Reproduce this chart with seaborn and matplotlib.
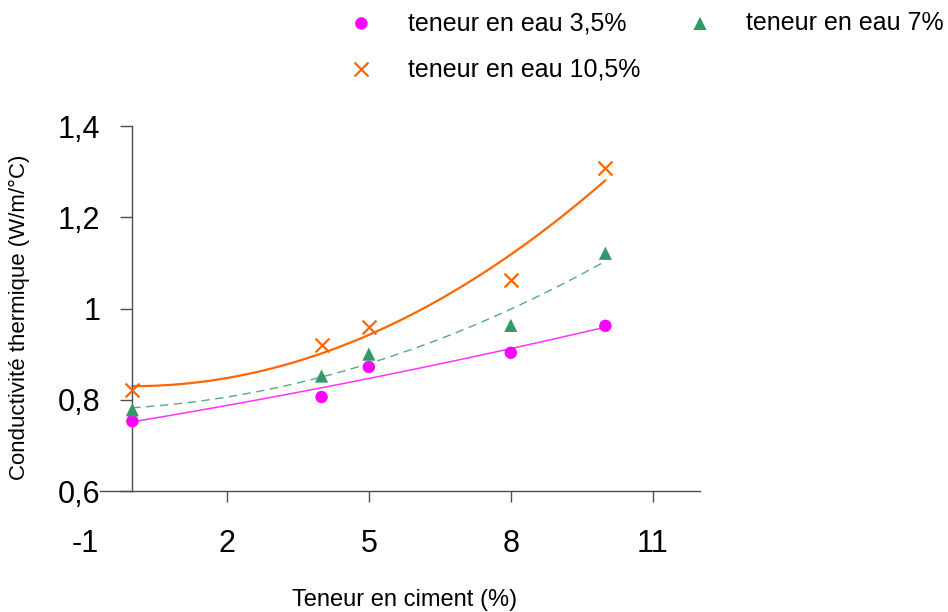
import numpy as np
import pandas as pd
import matplotlib
matplotlib.use("Agg")
import matplotlib.pyplot as plt
import seaborn as sns

# ---------- data ----------
ciment = [0, 4, 5, 8, 10]
eau_35 = [0.753, 0.806, 0.872, 0.903, 0.962]
eau_7 = [0.778, 0.852, 0.900, 0.963, 1.121]
eau_105 = [0.821, 0.920, 0.960, 1.063, 1.309]

labels = ["teneur en eau 3,5%", "teneur en eau 7%", "teneur en eau 10,5%"]
x_ticks = [-1, 2, 5, 8, 11]
y_ticks = [0.6, 0.8, 1.0, 1.2, 1.4]
y_ticklabels = ["0,6", "0,8", "1", "1,2", "1,4"]

colors = ["#FF00FF", "#339966", "#FF6600"]
markers = ["o", "^", "x"]
sizes = [80, 90, 100]
line_styles = ["-", (0, (6, 4)), "-"]
line_widths = [1.1, 1.0, 1.6]
line_colors = ["#FF33FF", "#55AA80", "#FF6600"]

sns.set_style("ticks")
plt.rcParams['font.family'] = ['Liberation Sans', 'DejaVu Sans']
plt.rcParams['text.color'] = 'black'
plt.rcParams['axes.labelcolor'] = 'black'
plt.rcParams['xtick.labelcolor'] = 'black'
plt.rcParams['ytick.labelcolor'] = 'black'

fig = plt.figure(figsize=(9.48, 6.12), dpi=100)
ax = fig.add_axes([0.0897, 0.1977, 0.6487, 0.5964])

series = [eau_35, eau_7, eau_105]
for vals, lab, col, mk, sz in zip(series, labels, colors, markers, sizes):
    df = pd.DataFrame({"x": ciment, "y": vals})
    if mk == "x":
        sns.scatterplot(data=df, x="x", y="y", ax=ax, color=col, marker=mk,
                        s=sz, linewidth=1.6, label=lab, zorder=3)
    else:
        sns.scatterplot(data=df, x="x", y="y", ax=ax, color=col, marker=mk,
                        s=sz, edgecolor="none", label=lab, zorder=3)

# polynomial trend lines (order 2) fitted on the points
xs = np.linspace(0, 10, 120)
for vals, ls, lw, col in zip(series, line_styles, line_widths, line_colors):
    coef = np.polyfit(ciment, vals, 2)
    fit = pd.DataFrame({"x": xs, "y": np.polyval(coef, xs)})
    sns.lineplot(data=fit, x="x", y="y", ax=ax, color=col, lw=lw,
                 linestyle=ls, legend=False, zorder=2)

h, l = ax.get_legend_handles_labels()
ax.get_legend().remove()
# order so that rows read: 3,5% | 7%  /  10,5%
order = [0, 2, 1]
fig.legend([h[i] for i in order], [l[i] for i in order], ncol=2,
           loc="upper left", bbox_to_anchor=(0.368, 0.982), frameon=False,
           fontsize=18, handlelength=1.0, handletextpad=1.35,
           columnspacing=1.9, labelspacing=0.88, borderpad=0, borderaxespad=0)

ax.set_xlim(-1, 12)
ax.set_ylim(0.6, 1.4)
ax.spines["left"].set_position(("data", 0))
ax.spines["bottom"].set_bounds(-0.68, 12)
ax.spines["top"].set_visible(False)
ax.spines["right"].set_visible(False)
for s in ["left", "bottom"]:
    ax.spines[s].set_color("#4d4d4d")
    ax.spines[s].set_linewidth(1.0)

ax.set_xticks(x_ticks)
ax.set_xticklabels([str(v) for v in x_ticks])
ax.set_yticks(y_ticks)
ax.set_yticklabels(y_ticklabels)
ax.tick_params(axis="x", length=8, width=1, color="#4d4d4d", labelsize=22, pad=19)
ax.tick_params(axis="y", length=9, width=1, color="#4d4d4d", labelsize=22, pad=14)
ax.xaxis.get_major_ticks()[0].tick1line.set_visible(False)

ax.set_xlabel("Teneur en ciment (%)", fontsize=17)
ax.set_ylabel("Conductivité thermique (W/m/°C)", fontsize=16)
ax.xaxis.set_label_coords(0.519, -0.298)
ax.yaxis.set_label_coords(-0.106, 0.477)
ax.xaxis.label.set_va("center")
ax.yaxis.label.set_va("center")

fig.savefig("out.png", dpi=100, facecolor="white")
